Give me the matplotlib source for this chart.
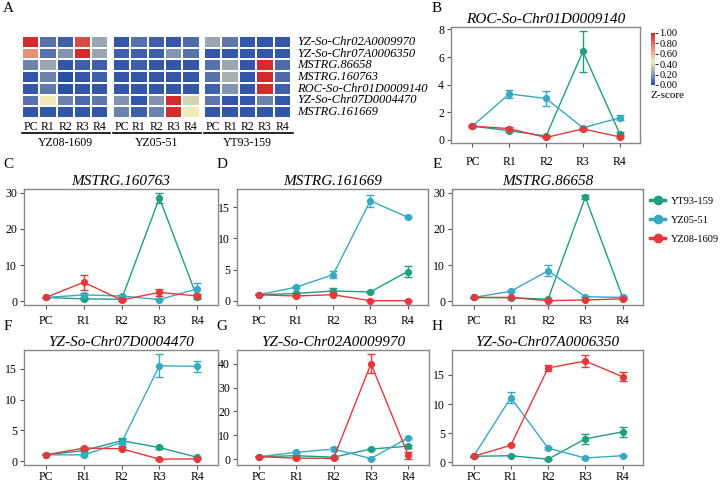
import numpy as np
import matplotlib
matplotlib.use("Agg")
import matplotlib.pyplot as plt
from matplotlib.colors import LinearSegmentedColormap
from matplotlib.lines import Line2D
from matplotlib.cm import ScalarMappable
from matplotlib.colors import Normalize

plt.rcParams['font.family'] = ['Liberation Serif', 'DejaVu Serif']

W, H = 721, 483
fig = plt.figure(figsize=(W / 100, H / 100), dpi=100)

def px_ax(l, t, r, b):
    return fig.add_axes([l / W, 1 - b / H, (r - l) / W, (b - t) / H])

# ---------------- data ----------------
stages = ["PC", "R1", "R2", "R3", "R4"]
cultivars = ["YZ08-1609", "YZ05-51", "YT93-159"]
heat_genes = ["YZ-So-Chr02A0009970", "YZ-So-Chr07A0006350", "MSTRG.86658",
              "MSTRG.160763", "ROC-So-Chr01D0009140", "YZ-So-Chr07D0004470",
              "MSTRG.161669"]
heat_yz08 = [[1.00, 0.10, 0.05, 0.90, 0.25],
             [0.70, 0.10, 0.20, 1.00, 0.25],
             [0.15, 0.25, 0.02, 0.05, 0.05],
             [0.02, 0.15, 0.00, 0.02, 0.05],
             [0.02, 0.12, 0.00, 0.02, 0.02],
             [0.10, 0.45, 0.15, 0.08, 0.12],
             [0.02, 0.02, 0.02, 0.02, 0.02]]
heat_yz05 = [[0.02, 0.10, 0.05, 0.02, 0.08],
             [0.05, 0.05, 0.05, 0.20, 0.10],
             [0.02, 0.05, 0.02, 0.02, 0.02],
             [0.02, 0.02, 0.02, 0.02, 0.02],
             [0.02, 0.02, 0.02, 0.02, 0.02],
             [0.20, 0.02, 0.20, 1.00, 0.38],
             [0.15, 0.05, 0.15, 1.00, 0.45]]
heat_yt93 = [[0.25, 0.12, 0.02, 0.02, 0.02],
             [0.02, 0.02, 0.02, 0.02, 0.02],
             [0.10, 0.25, 0.02, 1.00, 0.08],
             [0.10, 0.28, 0.02, 1.00, 0.08],
             [0.05, 0.20, 0.02, 1.00, 0.05],
             [0.12, 0.02, 0.02, 0.15, 0.02],
             [0.02, 0.02, 0.02, 0.02, 0.02]]

series_names = ["YT93-159", "YZ05-51", "YZ08-1609"]

# panel B: ROC-So-Chr01D0009140
b_yt93 = [1.0, 0.67, 0.28, 6.40, 0.45]; b_yt93_err = [0.08, 0.10, 0.05, 1.45, 0.10]
b_yz05 = [1.0, 3.33, 3.00, 0.88, 1.60]; b_yz05_err = [0.08, 0.30, 0.55, 0.08, 0.18]
b_yz08 = [1.0, 0.82, 0.18, 0.80, 0.22]; b_yz08_err = [0.08, 0.10, 0.05, 0.08, 0.05]
# panel C: MSTRG.160763
c_yt93 = [1.0, 0.6, 0.5, 28.6, 1.0]; c_yt93_err = [0.2, 0.3, 0.2, 1.5, 0.3]
c_yz05 = [1.0, 1.7, 1.4, 0.4, 3.4]; c_yz05_err = [0.2, 0.6, 0.3, 0.2, 1.5]
c_yz08 = [1.0, 5.2, 0.3, 2.4, 1.4]; c_yz08_err = [0.2, 2.0, 0.2, 1.0, 0.5]
# panel D: MSTRG.161669
d_yt93 = [1.0, 1.2, 1.6, 1.45, 4.7]; d_yt93_err = [0.1, 0.1, 0.4, 0.2, 0.9]
d_yz05 = [1.0, 2.2, 4.2, 16.0, 13.4]; d_yz05_err = [0.1, 0.2, 0.6, 1.0, 0.2]
d_yz08 = [1.0, 0.8, 1.0, 0.05, 0.05]; d_yz08_err = [0.1, 0.1, 0.1, 0.05, 0.05]
# panel E: MSTRG.86658
e_yt93 = [1.0, 0.9, 0.5, 28.8, 1.1]; e_yt93_err = [0.2, 0.2, 0.2, 0.6, 0.2]
e_yz05 = [1.0, 2.7, 8.4, 1.2, 1.0]; e_yz05_err = [0.2, 0.3, 1.5, 0.2, 0.2]
e_yz08 = [1.0, 1.0, 0.1, 0.3, 0.6]; e_yz08_err = [0.2, 0.2, 0.1, 0.1, 0.1]
# panel F: YZ-So-Chr07D0004470
f_yt93 = [1.0, 1.7, 3.3, 2.2, 0.6]; f_yt93_err = [0.1, 0.1, 0.5, 0.2, 0.1]
f_yz05 = [1.0, 1.0, 3.0, 15.5, 15.4]; f_yz05_err = [0.1, 0.2, 0.5, 1.9, 0.9]
f_yz08 = [1.0, 2.1, 2.0, 0.3, 0.35]; f_yz08_err = [0.1, 0.2, 0.2, 0.1, 0.1]
# panel G: YZ-So-Chr02A0009970
g_yt93 = [1.0, 1.4, 0.8, 4.2, 5.4]; g_yt93_err = [0.2, 0.3, 0.2, 0.6, 0.6]
g_yz05 = [1.0, 2.8, 4.2, 0.2, 9.0]; g_yz05_err = [0.2, 0.4, 1.0, 0.2, 0.4]
g_yz08 = [1.0, 0.4, 0.3, 40.0, 1.5]; g_yz08_err = [0.2, 0.2, 0.2, 4.0, 1.3]
# panel H: YZ-So-Chr07A0006350
h_yt93 = [1.0, 1.1, 0.5, 4.0, 5.2]; h_yt93_err = [0.1, 0.1, 0.1, 0.8, 0.8]
h_yz05 = [1.0, 11.1, 2.4, 0.7, 1.1]; h_yz05_err = [0.1, 0.9, 0.2, 0.1, 0.1]
h_yz08 = [1.0, 2.9, 16.2, 17.4, 14.7]; h_yz08_err = [0.1, 0.2, 0.6, 1.0, 0.8]

colors = ["#1f9e80", "#38a9c2", "#e5383b"]

# ---------------- heatmap (A) ----------------
cmap = LinearSegmentedColormap.from_list(
    "zs", [(0.0, "#2a4fa8"), (0.45, "#f2ebb9"), (1.0, "#d42b2b")])

blocks = [(22, 108.5), (113, 199.5), (204, 291)]
hm_top, hm_bot = 36, 118
for (x0, x1), data, name in zip(blocks, [heat_yz08, heat_yz05, heat_yt93], cultivars):
    ax = px_ax(x0, hm_top, x1, hm_bot)
    ax.pcolormesh(np.arange(6), np.arange(8), np.array(data), cmap=cmap,
                  vmin=0, vmax=1, edgecolors="white", linewidth=1.3)
    ax.set_xlim(0, 5)
    ax.set_ylim(7, 0)
    for s in ax.spines.values():
        s.set_visible(False)
    ax.set_yticks([])
    ax.set_xticks(np.arange(5) + 0.5)
    ax.set_xticklabels(stages, fontsize=8.5)
    ax.tick_params(axis="x", length=0, pad=2)
    fig.add_artist(Line2D([x0 / W, (x1 + 1.5) / W], [1 - 133 / H, 1 - 133 / H],
                          color="black", lw=1.2))
    fig.text((x0 + x1) / 2 / W, 1 - 142.5 / H, name, ha="center", va="center",
             fontsize=8.5)

row_h = (hm_bot - hm_top) / 7
for i, g in enumerate(heat_genes):
    fig.text(297 / W, 1 - (hm_top + (i + 0.5) * row_h) / H, g, ha="left",
             va="center", fontsize=9, style="italic")

# colorbar
cax = px_ax(651, 33, 655, 85)
sm = ScalarMappable(norm=Normalize(0, 1), cmap=cmap)
cb = fig.colorbar(sm, cax=cax, ticks=[0, 0.2, 0.4, 0.6, 0.8, 1.0])
cb.outline.set_visible(False)
cb.ax.set_yticklabels(["0.00", "0.20", "0.40", "0.60", "0.80", "1.00"], fontsize=7.5)
cb.ax.tick_params(length=2, width=0.6, pad=1)
fig.text(650 / W, 1 - 95 / H, "Z-score", ha="left", va="center", fontsize=8)

# ---------------- line panels ----------------
panels = [
    ("ROC-So-Chr01D0009140", (451, 27, 640, 143), (-0.22, 8.17), [0, 2, 4, 6, 8],
     [(b_yt93, b_yt93_err), (b_yz05, b_yz05_err), (b_yz08, b_yz08_err)], 6),
    ("MSTRG.160763", (24, 189, 218, 305), (-1.1, 31.1), [0, 10, 20, 30],
     [(c_yt93, c_yt93_err), (c_yz05, c_yz05_err), (c_yz08, c_yz08_err)], 4),
    ("MSTRG.161669", (237, 189, 428, 305), (-0.64, 17.9), [0, 5, 10, 15],
     [(d_yt93, d_yt93_err), (d_yz05, d_yz05_err), (d_yz08, d_yz08_err)], 4),
    ("MSTRG.86658", (452, 189, 643, 305), (-1.1, 31.1), [0, 10, 20, 30],
     [(e_yt93, e_yt93_err), (e_yz05, e_yz05_err), (e_yz08, e_yz08_err)], 4),
    ("YZ-So-Chr07D0004470", (24, 350, 218, 465), (-0.65, 18.06), [0, 5, 10, 15],
     [(f_yt93, f_yt93_err), (f_yz05, f_yz05_err), (f_yz08, f_yz08_err)], 1),
    ("YZ-So-Chr02A0009970", (237, 350, 429, 465), (-2.5, 45.8), [0, 10, 20, 30, 40],
     [(g_yt93, g_yt93_err), (g_yz05, g_yz05_err), (g_yz08, g_yz08_err)], 1),
    ("YZ-So-Chr07A0006350", (452, 350, 643, 465), (-0.5, 19.3), [0, 5, 10, 15],
     [(h_yt93, h_yt93_err), (h_yz05, h_yz05_err), (h_yz08, h_yz08_err)], 1),
]

x = np.arange(len(stages))
for title, box, ylim, yticks, series, xpad in panels:
    ax = px_ax(*box)
    for (vals, errs), col in zip(series, colors):
        ax.errorbar(x, vals, yerr=errs, color=col, lw=1.0, marker="o",
                    markersize=4.2, capsize=2.8, elinewidth=1.0, capthick=1.0)
    ax.set_xlim(-0.58, 4.55)
    ax.set_ylim(*ylim)
    ax.set_yticks(yticks)
    ax.set_xticks(x)
    ax.set_xticklabels(stages)
    ax.tick_params(labelsize=8.5, length=3, width=0.8, color="#555555", pad=2)
    ax.tick_params(axis="x", pad=xpad)
    for s in ax.spines.values():
        s.set_color("#888888")
        s.set_linewidth(1.0)
    ax.set_title(title, style="italic", fontsize=11, pad=3)

# legend
handles = [Line2D([], [], color=c, lw=2.5, marker="o", markersize=6) for c in colors]
fig.legend(handles, series_names, loc="upper left",
           bbox_to_anchor=(643 / W, 1 - 189 / H), frameon=False, fontsize=7.5,
           handlelength=1.45, labelspacing=0.95, handletextpad=0.5,
           borderaxespad=0.3)

# panel letters
for lab, (px, py) in zip("ABCDEFGH", [(8, 8), (437, 8), (8, 165), (222, 165),
                                      (437, 165), (8, 327), (222, 327), (437, 327)]):
    fig.text(px / W, 1 - py / H, lab, ha="center", va="center", fontsize=11)

fig.savefig("out.png", dpi=100)
